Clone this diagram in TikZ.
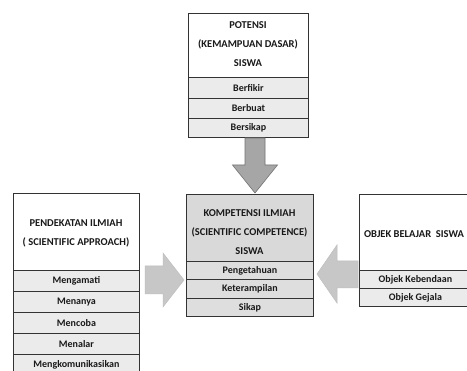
\documentclass[tikz,border=0pt]{standalone}
\usepackage{fontspec}
\setmainfont{Carlito}
\begin{document}
\begin{tikzpicture}[x=1pt,y=-1pt,
  cell/.style={draw=black!80, line width=0.9pt, inner sep=0pt, anchor=north west,
    font=\fontsize{10}{10}\selectfont\bfseries, text=black!90},
  rowfill/.style={fill=black!8},
  ttl/.style={inner sep=0pt, align=center, font=\fontsize{10.5}{19}\selectfont\bfseries, text=black!90},
  bigarrow/.style={fill=black!35, draw=black!55, line width=0.6pt},
  sidearrow/.style={fill=black!22, draw=black!25, line width=0.5pt}
]
\path[use as bounding box, clip] (0,0) rectangle (467,371);
\fill[white] (0,0) rectangle (467,371);

% top box
\node[cell, minimum width=120pt, minimum height=64pt] (tT) at (188,13) {};
\node[ttl] (tTt) at (248,44) {POTENSI\\(KEMAMPUAN DASAR)\\SISWA};
\node[cell, rowfill, minimum width=120pt, minimum height=21pt] (t1) at (188,77) {Berfikir};
\node[cell, rowfill, minimum width=120pt, minimum height=20pt] (t2) at (188,98) {Berbuat};
\node[cell, rowfill, minimum width=120pt, minimum height=19pt] (t3) at (188,118) {Bersikap};

% center box
\node[cell, fill=black!15, minimum width=127pt, minimum height=67pt] (cT) at (186,194) {};
\node[ttl] (cTt) at (249.5,232.5) {KOMPETENSI ILMIAH\\(SCIENTIFIC COMPETENCE)\\SISWA};
\node[cell, fill=black!13, minimum width=127pt, minimum height=18pt] (c1) at (186,261) {Pengetahuan};
\node[cell, fill=black!13, minimum width=127pt, minimum height=19pt] (c2) at (186,279) {Keterampilan};
\node[cell, fill=black!13, minimum width=127pt, minimum height=18pt] (c3) at (186,298) {Sikap};

% left box
\node[cell, minimum width=126pt, minimum height=77pt] (lT) at (13,193) {};
\node[ttl] (lTt) at (76,233) {PENDEKATAN ILMIAH\\( SCIENTIFIC APPROACH)};
\node[cell, rowfill, minimum width=126pt, minimum height=21pt] (l1) at (13,270) {Mengamati};
\node[cell, rowfill, minimum width=126pt, minimum height=21pt] (l2) at (13,291) {Menanya};
\node[cell, rowfill, minimum width=126pt, minimum height=21pt] (l3) at (13,312) {Mencoba};
\node[cell, rowfill, minimum width=126pt, minimum height=21pt] (l4) at (13,333) {Menalar};
\node[cell, rowfill, minimum width=126pt, minimum height=21pt] (l5) at (13,354) {Mengkomunikasikan};

% right box
\node[cell, minimum width=112pt, minimum height=76pt] (rT) at (359,194) {};
\node[ttl] (rTt) at (414,234) {OBJEK BELAJAR\ \ SISWA};
\node[cell, rowfill, minimum width=112pt, minimum height=18pt] (r1) at (359,270) {Objek Kebendaan};
\node[cell, rowfill, minimum width=112pt, minimum height=18pt] (r2) at (359,288) {Objek Gejala};

% arrows
\draw[bigarrow] (245,138) -- (265,138) -- (265,165) -- (277.5,165) -- (255,193) -- (232.5,165) -- (245,165) -- cycle;
\draw[sidearrow] (145,266) -- (163,266) -- (163,253) -- (184,280) -- (163,307) -- (163,294) -- (145,294) -- cycle;
\draw[sidearrow] (358,261) -- (337,261) -- (337,245) -- (317,274) -- (337,303) -- (337,288) -- (358,288) -- cycle;
\end{tikzpicture}
\end{document}
